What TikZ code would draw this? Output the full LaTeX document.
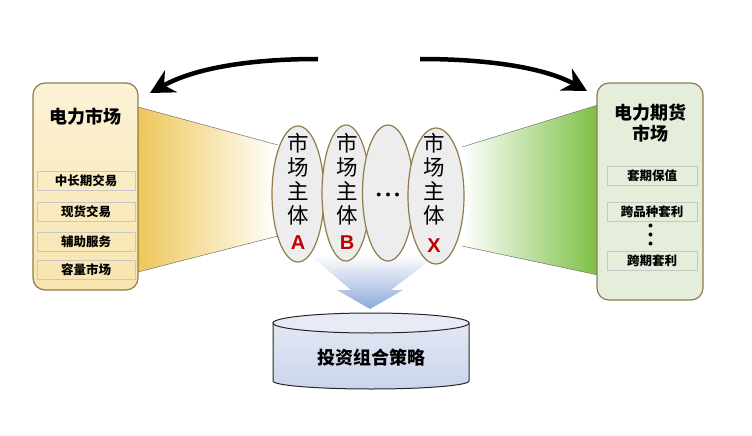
\documentclass[tikz,border=0pt]{standalone}
\usepackage{fontspec}
\usepackage{xcolor}
\usetikzlibrary{arrows.meta,shapes.geometric}
\setmainfont{Noto Sans CJK SC}
\newfontfamily\latinfont{Liberation Sans}

\definecolor{edgebrown}{HTML}{8E7C4A}
\definecolor{powertop}{HTML}{FCF2D6}
\definecolor{powerbot}{HTML}{F8E4AE}
\definecolor{futfill}{HTML}{E4EEDA}
\definecolor{beamgold}{HTML}{EEC75A}
\definecolor{beamgreen}{HTML}{7CC043}
\definecolor{agentgray}{HTML}{EDEDED}
\definecolor{tagred}{HTML}{C00000}
\definecolor{flowblue}{HTML}{8CA8DA}
\definecolor{cyltop}{HTML}{E6EBF5}
\definecolor{cylbot}{HTML}{CAD4EB}

\tikzset{
	market/.style={draw=edgebrown, line width=1.2pt, rounded corners=12pt, inner sep=0pt},
	markettitle/.style={font=\bfseries\fontsize{18}{21}\selectfont, align=center, inner sep=0pt},
	marketitem/.style={draw=black!22, line width=0.5pt, inner sep=0pt, minimum height=19pt, font=\bfseries\fontsize{12.5}{12.5}\selectfont},
	agent/.style={ellipse, draw=edgebrown, fill=agentgray, line width=1.2pt, minimum width=52pt, minimum height=136pt, inner sep=0pt},
	agenttext/.style={align=center, inner sep=0pt, font=\fontsize{21.5}{24}\selectfont},
	agenttag/.style={inner sep=0pt, text=tagred, font=\latinfont\bfseries\fontsize{20}{20}\selectfont},
	beamedge/.style={draw=black!55, line width=0.5pt},
	bigarrow/.style={line width=4.5pt, -{Stealth[length=24pt, width=25pt, inset=8pt]}},
}

\begin{document}
\begin{tikzpicture}[x=1pt, y=-1pt]
	\useasboundingbox (0,0) rectangle (752,436);
	% beams
	\shade[left color=beamgold, right color=white] (138,107) -- (278,145) -- (278,236) -- (138,272) -- cycle;
	\draw[beamedge] (138,107) -- (278,145);
	\draw[beamedge] (138,272) -- (278,236);
	\shade[left color=white, right color=beamgreen] (462,147) -- (598,105) -- (598,275) -- (462,246) -- cycle;
	\draw[beamedge] (462,147) -- (598,105);
	\draw[beamedge] (462,246) -- (598,275);
	% flow arrow
	\shade[top color=white, bottom color=flowblue] (310,255) -- (437,255) -- (391,290) -- (403,290) -- (370,309) -- (337,290) -- (351,290) -- cycle;
	% agents
	\node[agent] (A) at (298,194) {};
	\node[agent, minimum width=48pt] (B) at (346,193) {};
	\node[agent, minimum width=51pt] (etc) at (388,193) {};
	\node[agent, minimum width=56pt] (X) at (436,196) {};
	\node[agenttext] (Alabel) at (298,179) {市\\场\\主\\体};
	\node[agenttext] (Blabel) at (347,179) {市\\场\\主\\体};
	\node[agenttext] (Xlabel) at (434,179) {市\\场\\主\\体};
	\node[agenttag] (Atag) at (298,243) {A};
	\node[agenttag] (Btag) at (347,243) {B};
	\node[agenttag] (Xtag) at (434,246) {X};
	\node[inner sep=0pt, font=\fontsize{10}{10}\selectfont] (etcdots) at (388,195) {$\bullet\kern2pt\bullet\kern2pt\bullet$};
	% markets
	\node[market, top color=powertop, bottom color=powerbot, minimum width=105pt, minimum height=207pt] (power) at (85.5,186.5) {};
	\node[markettitle] (powertitle) at (85.5,117) {电力市场};
	\node[marketitem, minimum width=98pt] (longterm) at (86,180.5) {中长期交易};
	\node[marketitem, minimum width=98pt] (spot) at (86,212) {现货交易};
	\node[marketitem, minimum width=98pt] (ancil) at (86,242) {辅助服务};
	\node[marketitem, minimum width=98pt] (capacity) at (86,269.5) {容量市场};
	\node[market, fill=futfill, minimum width=106pt, minimum height=217pt] (futures) at (650,191.5) {};
	\node[markettitle] (futtitle) at (650,123) {电力期货\\市场};
	\node[marketitem, minimum width=90pt] (hedge) at (652,176) {套期保值};
	\node[marketitem, minimum width=90pt] (cross) at (652,211.5) {跨品种套利};
	\node[inner sep=0pt, rotate=90, font=\fontsize{10}{10}\selectfont] (futdots) at (651,235) {$\bullet\kern1.5pt\bullet\kern1.5pt\bullet$};
	\node[marketitem, minimum width=90pt] (calendar) at (652,261) {跨期套利};
	% portfolio cylinder
	\shade[top color=cyltop, bottom color=cylbot] (273,323) -- (273,381) arc[start angle=180, end angle=0, x radius=98, y radius=8] -- (469,323) arc[start angle=0, end angle=-180, x radius=98, y radius=10] -- cycle;
	\draw[black!85, line width=1pt] (273,323) -- (273,381) arc[start angle=180, end angle=0, x radius=98, y radius=8] -- (469,323);
	\draw[black!85, line width=1pt, fill=cyltop] (371,323) ellipse[x radius=98, y radius=10];
	\node[font=\bfseries\fontsize{18}{18}\selectfont] (portfolio) at (371,358) {投资组合策略};
	% arrows
	\coordinate (lefttail) at (318,59);
	\coordinate (lefthead) at (150,93);
	\coordinate (righttail) at (420,59);
	\coordinate (righthead) at (587,91);
	\draw[bigarrow] (lefttail) .. controls (250,59) and (195,68) .. (lefthead);
	\draw[bigarrow] (righttail) .. controls (490,59) and (545,68) .. (righthead);
\end{tikzpicture}
\end{document}
